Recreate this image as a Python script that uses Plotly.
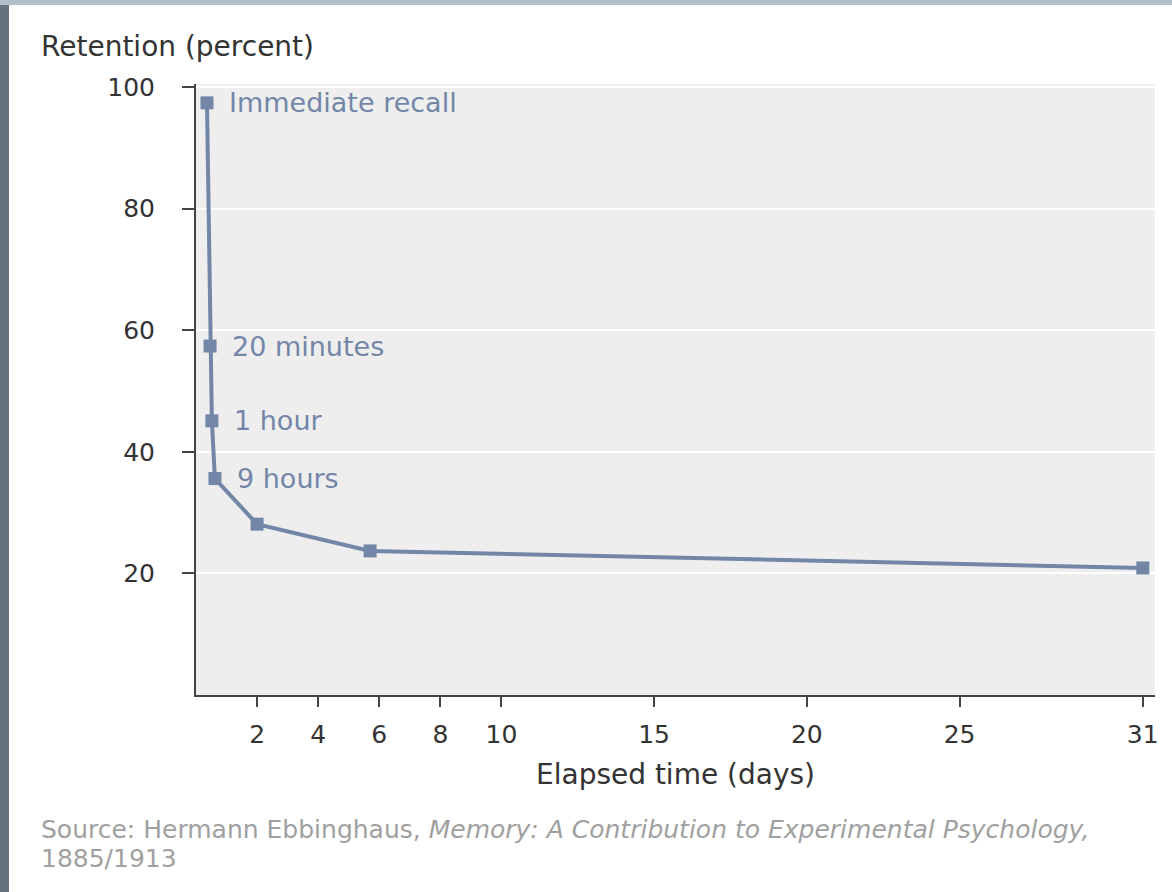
import plotly.graph_objects as go

# ---- data ----
elapsed_days = [0.36, 0.46, 0.52, 0.62, 2.0, 5.7, 31.0]
retention_pct = [97.4, 57.4, 45.1, 35.6, 28.1, 23.7, 20.9]
point_labels = ["Immediate recall", "20 minutes", "1 hour", "9 hours", "", "", ""]
x_ticks = [2, 4, 6, 8, 10, 15, 20, 25, 31]
y_ticks = [20, 40, 60, 80, 100]

LINE = "#7386a8"
FONT = "DejaVu Sans"

W, H = 1172, 892
L, R, T, B = 196, 17, 84, 197
PW, PH = W - L - R, H - T - B


def px(xp):
    return (xp - L) / PW


def py(yp):
    return (H - B - yp) / PH


fig = go.Figure()
fig.add_trace(go.Scatter(
    x=elapsed_days, y=retention_pct, mode="lines+markers",
    line=dict(color=LINE, width=4),
    marker=dict(symbol="square", size=13, color=LINE),
    hoverinfo="skip", showlegend=False,
))

annotations = []
for xv, yv, lab in zip(elapsed_days, retention_pct, point_labels):
    if lab:
        annotations.append(dict(
            x=xv, y=yv, xref="x", yref="y", text=lab, showarrow=False,
            xanchor="left", yanchor="middle", xshift=20,
            font=dict(family=FONT, size=27, color=LINE),
        ))

annotations.append(dict(
    x=px(39), y=py(47), xref="paper", yref="paper", text="Retention (percent)",
    showarrow=False, xanchor="left", yanchor="middle",
    font=dict(family=FONT, size=28, color="#333333"),
))
annotations.append(dict(
    x=px(39), y=py(829), xref="paper", yref="paper",
    text="Source: Hermann Ebbinghaus, <i>Memory: A Contribution to Experimental Psychology,</i>",
    showarrow=False, xanchor="left", yanchor="middle", align="left",
    font=dict(family=FONT, size=25, color="#a0a0a0"),
))
annotations.append(dict(
    x=px(39), y=py(858), xref="paper", yref="paper",
    text="1885/1913",
    showarrow=False, xanchor="left", yanchor="middle", align="left",
    font=dict(family=FONT, size=25, color="#a0a0a0"),
))

shapes = [
    # left frame strip
    dict(type="rect", xref="paper", yref="paper", x0=px(0), x1=px(9), y0=py(H), y1=py(0),
         fillcolor="#66737f", line=dict(width=0), layer="above"),
    # top frame strip
    dict(type="rect", xref="paper", yref="paper", x0=px(0), x1=px(W), y0=py(5), y1=py(0),
         fillcolor="#b3bfca", line=dict(width=0), layer="above"),
]

fig.update_layout(
    width=W, height=H,
    margin=dict(l=L, r=R, t=T, b=B, pad=0),
    paper_bgcolor="#ffffff", plot_bgcolor="#eeeeee",
    font=dict(family=FONT, size=26, color="#333333"),
    annotations=annotations, shapes=shapes,
    xaxis=dict(
        range=[0, 31.4], tickvals=x_ticks, ticktext=[str(v) for v in x_ticks],
        showgrid=False, zeroline=False,
        showline=True, linecolor="#444444", linewidth=2,
        ticks="outside", ticklen=10, tickwidth=2, tickcolor="#444444",
        ticklabelstandoff=6,
        tickfont=dict(family=FONT, size=25, color="#333333"),
        title=dict(text="Elapsed time (days)", font=dict(family=FONT, size=28, color="#333333"), standoff=16),
    ),
    yaxis=dict(
        range=[0, 100.5], tickvals=y_ticks,
        showgrid=True, gridcolor="#ffffff", gridwidth=2, zeroline=False,
        showline=True, linecolor="#444444", linewidth=2,
        ticks="outside", ticklen=12, tickwidth=2, tickcolor="#444444",
        ticklabelstandoff=22,
        tickfont=dict(family=FONT, size=25, color="#333333"),
    ),
)

fig.write_html("out.html", config={"displayModeBar": False},
               post_script="document.body.style.margin='0';")
